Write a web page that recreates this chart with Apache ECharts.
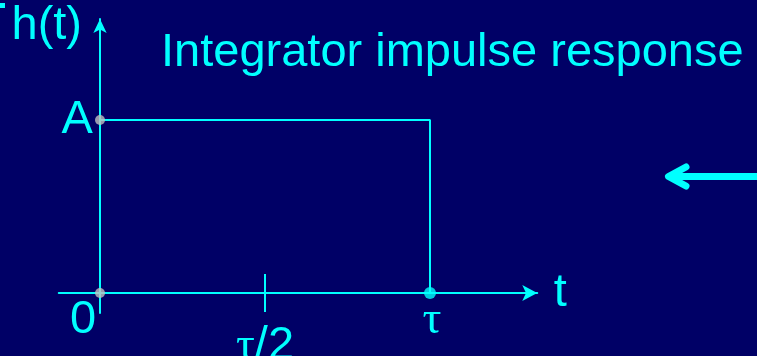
<!DOCTYPE html>
<html>
<head>
<meta charset="utf-8">
<style>
  html, body { margin: 0; padding: 0; background: #000066; }
  #chart { width: 757px; height: 356px; }
</style>
<script src="https://cdn.jsdelivr.net/npm/echarts@6/dist/echarts.min.js"></script>
</head>
<body>
<div id="chart"></div>
<script>
// t in units of tau, h in units of A
const pulseT = [0, 1, 1];
const pulseH = [1, 1, 0];
const dotT = [0, 0, 1];
const dotH = [0, 1, 0];
const xTickValues = [0, 0.5, 1];
const xTickLabels = ['0', 'τ/2', 'τ'];
const yTickValues = [1];
const yTickLabels = ['A'];
const midTick = [0.5];

const CYAN = '#00ffff';
const SANS = '"Liberation Sans", Arial, sans-serif';
const SERIF = '"Liberation Serif", "Times New Roman", serif';
const FS = 47;
const TICK_HALF = 0.11;

const dotColors = ['#c0c0c0', '#c0c0c0', CYAN];
const dotSizes = [10, 10, 12];

const chart = echarts.init(document.getElementById('chart'));

function xLabel(v) {
  const i = xTickValues.indexOf(v);
  const txt = i < 0 ? '' : xTickLabels[i];
  if (txt === '0') return '{zero|0}';
  if (txt === 'τ/2') return '{tauLow|τ}{sansLow|/2}';
  if (txt === 'τ') return '{tau|τ}';
  return txt;
}

chart.setOption({
  backgroundColor: '#000066',
  animation: false,
  title: {
    text: 'Integrator impulse response',
    left: 161,
    top: 30,
    padding: 0,
    textStyle: { color: CYAN, fontSize: FS, fontWeight: 'normal', fontFamily: SANS }
  },
  grid: { left: 58.75, right: 219.75, top: 19, bottom: 43.1, outerBoundsMode: 'none', containLabel: false },
  xAxis: {
    type: 'value',
    min: -0.125,
    max: 1.325,
    name: 't',
    nameLocation: 'end',
    nameGap: 16.5,
    nameTextStyle: { color: CYAN, fontSize: FS, fontFamily: SANS, padding: [0, 0, 18, 0] },
    axisLine: {
      onZero: true,
      symbol: ['none', 'arrow'],
      symbolSize: [12, 15],
      lineStyle: { color: CYAN, width: 2 }
    },
    axisTick: { show: false },
    splitLine: { show: false },
    axisLabel: {
      customValues: xTickValues,
      margin: 3,
      formatter: xLabel,
      color: CYAN,
      rich: {
        zero: { fontSize: FS, fontFamily: SANS, color: CYAN, lineHeight: 9, padding: [0, 34, 0, 0] },
        tau: { fontSize: FS, fontFamily: SERIF, color: CYAN, lineHeight: 9, padding: [0, 0, 0, 4] },
        tauLow: { fontSize: FS, fontFamily: SERIF, color: CYAN, lineHeight: 61 },
        sansLow: { fontSize: FS, fontFamily: SANS, color: CYAN, lineHeight: 61 }
      }
    }
  },
  yAxis: {
    type: 'value',
    min: -0.115,
    max: 1.584,
    name: 'h(t)',
    nameLocation: 'end',
    nameGap: -7,
    nameTextStyle: {
      color: CYAN, fontSize: FS, fontFamily: SANS,
      align: 'right', verticalAlign: 'middle', padding: [0, 18, 0, 0]
    },
    axisLine: {
      onZero: true,
      symbol: ['none', 'arrow'],
      symbolSize: [10, 14],
      lineStyle: { color: CYAN, width: 2 }
    },
    axisTick: { show: false },
    splitLine: { show: false },
    axisLabel: {
      customValues: yTickValues,
      margin: -34,
      formatter: v => yTickLabels[yTickValues.indexOf(v)] || '',
      color: CYAN,
      fontSize: FS,
      fontFamily: SANS
    }
  },
  graphic: [
    { type: 'rect', shape: { x: 0, y: 3, width: 5, height: 5 }, style: { fill: CYAN } },
    {
      type: 'polyline',
      shape: { points: [[757, 176.5], [670, 176.5]] },
      style: { stroke: CYAN, lineWidth: 7, fill: null }
    },
    {
      type: 'polyline',
      shape: { points: [[686, 167], [668.5, 176.5], [686, 186]] },
      style: { stroke: CYAN, lineWidth: 7, lineCap: 'round', lineJoin: 'round', fill: null }
    }
  ],
  series: [
    {
      name: 'h(t)',
      type: 'line',
      data: pulseT.map((t, i) => [t, pulseH[i]]),
      showSymbol: false,
      lineStyle: { color: CYAN, width: 2 },
      z: 3
    },
    {
      name: 'tick',
      type: 'line',
      data: midTick.flatMap(t => [[t, -TICK_HALF], [t, TICK_HALF]]),
      showSymbol: false,
      lineStyle: { color: CYAN, width: 2 },
      z: 3
    },
    {
      name: 'dots',
      type: 'scatter',
      data: dotT.map((t, i) => ({
        value: [t, dotH[i]],
        symbolSize: dotSizes[i],
        itemStyle: { color: dotColors[i] }
      })),
      z: 4
    }
  ]
});
</script>
</body>
</html>
